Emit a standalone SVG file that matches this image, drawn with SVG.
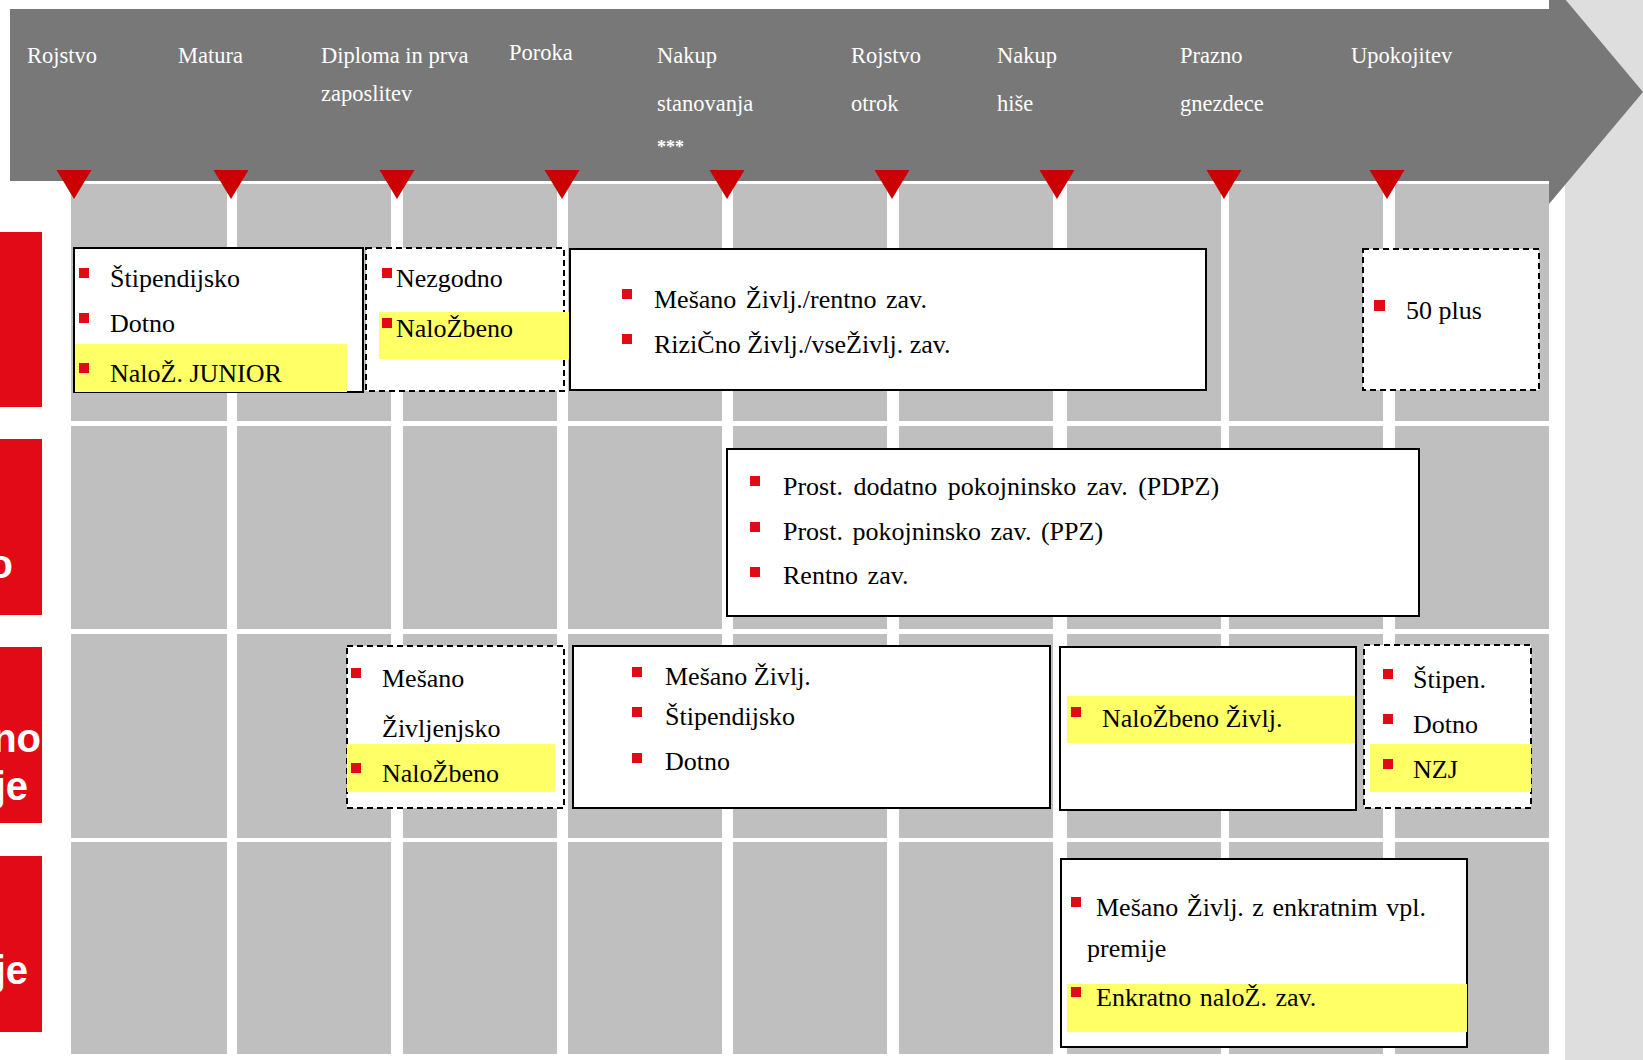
<svg xmlns="http://www.w3.org/2000/svg" width="1643" height="1060" viewBox="0 0 1643 1060">
<style>
.cell{fill:#BFBFBF}
.hdr{font-family:"Liberation Serif",serif;font-size:22.5px;fill:#fff}
.ast{font-family:"Liberation Serif",serif;font-size:18px;font-weight:bold;fill:#fff}
.t{font-family:"Liberation Serif",serif;font-size:26px;fill:#000}
.box{fill:#fff;stroke:#000;stroke-width:2}
.dash{fill:#fff;stroke:#000;stroke-width:2;stroke-dasharray:6 4}
.hl{fill:#FFFF66}
.bul{fill:#E30A17}
.tri{fill:#CC0000}
.tab{fill:#E30A17}
.tabt{font-family:"Liberation Sans",Arial,sans-serif;font-weight:bold;font-size:40px;fill:#fff}
</style>
<rect width="1643" height="1060" fill="#fff"/>
<rect x="1565" y="0" width="78" height="1060" fill="#DEDEDE"/>
<g id="grid">
<rect class="cell" x="71" y="184" width="156" height="237"/><rect class="cell" x="237" y="184" width="154" height="237"/><rect class="cell" x="403" y="184" width="154" height="237"/><rect class="cell" x="568" y="184" width="154" height="237"/><rect class="cell" x="733" y="184" width="154" height="237"/><rect class="cell" x="899" y="184" width="154" height="237"/><rect class="cell" x="1067" y="184" width="154" height="237"/><rect class="cell" x="1229" y="184" width="154" height="237"/><rect class="cell" x="1395" y="184" width="154" height="237"/>
<rect class="cell" x="71" y="426" width="156" height="203"/><rect class="cell" x="237" y="426" width="154" height="203"/><rect class="cell" x="403" y="426" width="154" height="203"/><rect class="cell" x="568" y="426" width="154" height="203"/><rect class="cell" x="733" y="426" width="154" height="203"/><rect class="cell" x="899" y="426" width="154" height="203"/><rect class="cell" x="1067" y="426" width="154" height="203"/><rect class="cell" x="1229" y="426" width="154" height="203"/><rect class="cell" x="1395" y="426" width="154" height="203"/>
<rect class="cell" x="71" y="634" width="156" height="204"/><rect class="cell" x="237" y="634" width="154" height="204"/><rect class="cell" x="403" y="634" width="154" height="204"/><rect class="cell" x="568" y="634" width="154" height="204"/><rect class="cell" x="733" y="634" width="154" height="204"/><rect class="cell" x="899" y="634" width="154" height="204"/><rect class="cell" x="1067" y="634" width="154" height="204"/><rect class="cell" x="1229" y="634" width="154" height="204"/><rect class="cell" x="1395" y="634" width="154" height="204"/>
<rect class="cell" x="71" y="842" width="156" height="212"/><rect class="cell" x="237" y="842" width="154" height="212"/><rect class="cell" x="403" y="842" width="154" height="212"/><rect class="cell" x="568" y="842" width="154" height="212"/><rect class="cell" x="733" y="842" width="154" height="212"/><rect class="cell" x="899" y="842" width="154" height="212"/><rect class="cell" x="1067" y="842" width="154" height="212"/><rect class="cell" x="1229" y="842" width="154" height="212"/><rect class="cell" x="1395" y="842" width="154" height="212"/>
</g>
<g id="timeline">
<path d="M10,9 H1549 V-20 L1643,92 L1549,204 V181 H10 Z" fill="#787878"/>
<text class="hdr" x="27" y="63">Rojstvo</text>
<text class="hdr" x="178" y="63">Matura</text>
<text class="hdr" x="321" y="63">Diploma in prva</text>
<text class="hdr" x="321" y="101">zaposlitev</text>
<text class="hdr" x="509" y="60">Poroka</text>
<text class="hdr" x="657" y="63">Nakup</text>
<text class="hdr" x="657" y="111">stanovanja</text>
<text class="ast" x="657" y="153">***</text>
<text class="hdr" x="851" y="63">Rojstvo</text>
<text class="hdr" x="851" y="111">otrok</text>
<text class="hdr" x="997" y="63">Nakup</text>
<text class="hdr" x="997" y="111">hiše</text>
<text class="hdr" x="1180" y="63">Prazno</text>
<text class="hdr" x="1180" y="111">gnezdece</text>
<text class="hdr" x="1351" y="63">Upokojitev</text>
<polygon class="tri" points="56.5,170 91.5,170 74,199"/>
<polygon class="tri" points="213.5,170 248.5,170 231,199"/>
<polygon class="tri" points="379.5,170 414.5,170 397,199"/>
<polygon class="tri" points="544.5,170 579.5,170 562,199"/>
<polygon class="tri" points="709.5,170 744.5,170 727,199"/>
<polygon class="tri" points="874.5,170 909.5,170 892,199"/>
<polygon class="tri" points="1039.5,170 1074.5,170 1057,199"/>
<polygon class="tri" points="1206.5,170 1241.5,170 1224,199"/>
<polygon class="tri" points="1369.5,170 1404.5,170 1387,199"/>
</g>
<g id="tabs">
<rect class="tab" x="0" y="232" width="42" height="175"/>
<rect class="tab" x="0" y="439" width="42" height="176"/>
<text class="tabt" x="13" y="578" text-anchor="end">o</text>
<rect class="tab" x="0" y="647" width="42" height="176"/>
<text class="tabt" x="41" y="752" text-anchor="end">no</text>
<text class="tabt" x="28" y="800" text-anchor="end">je</text>
<rect class="tab" x="0" y="856" width="42" height="176"/>
<text class="tabt" x="28" y="984" text-anchor="end">je</text>
</g>
<g id="connectors"></g>
<g id="boxA">
<rect class="box" x="74" y="248" width="289" height="144"/>
<rect class="hl" x="75" y="344" width="272" height="48"/>
<rect class="bul" x="79" y="268" width="10" height="10"/>
<rect class="bul" x="79" y="313" width="10" height="10"/>
<rect class="bul" x="79" y="363" width="10" height="10"/>
<text class="t" x="110" y="287">Štipendijsko</text>
<text class="t" x="110" y="332">Dotno</text>
<text class="t" x="110" y="382">NaloŽ. JUNIOR</text>
</g>
<g id="boxB">
<rect class="dash" x="366" y="248" width="198" height="143"/>
<rect class="hl" x="379" y="312" width="192" height="47"/>
<rect class="bul" x="382" y="268" width="10" height="10"/>
<rect class="bul" x="382" y="318" width="10" height="10"/>
<text class="t" x="396" y="287">Nezgodno</text>
<text class="t" x="396" y="337">NaloŽbeno</text>
</g>
<g id="boxC">
<rect class="box" x="570" y="249" width="636" height="141"/>
<rect class="bul" x="622" y="289" width="10" height="10"/>
<rect class="bul" x="622" y="334" width="10" height="10"/>
<text class="t" x="654" y="308" word-spacing="3">Mešano Življ./rentno zav.</text>
<text class="t" x="654" y="353">RiziČno Življ./vseŽivlj. zav.</text>
</g>
<g id="boxD">
<rect class="dash" x="1363" y="249" width="176" height="141"/>
<rect class="bul" x="1374" y="300" width="11" height="11"/>
<text class="t" x="1406" y="319">50 plus</text>
</g>
<g id="boxE">
<rect class="box" x="727" y="449" width="692" height="167"/>
<rect class="bul" x="750" y="476" width="10" height="10"/>
<rect class="bul" x="750" y="522" width="10" height="10"/>
<rect class="bul" x="750" y="567" width="10" height="10"/>
<text class="t" x="783" y="495" word-spacing="4">Prost. dodatno pokojninsko zav. (PDPZ)</text>
<text class="t" x="783" y="540" word-spacing="3">Prost. pokojninsko zav. (PPZ)</text>
<text class="t" x="783" y="584" word-spacing="3">Rentno zav.</text>
</g>
<g id="boxF">
<rect class="dash" x="347" y="646" width="217" height="162"/>
<rect class="hl" x="347" y="744" width="208" height="48"/>
<rect class="bul" x="351" y="668" width="10" height="10"/>
<rect class="bul" x="351" y="763" width="10" height="10"/>
<text class="t" x="382" y="687">Mešano</text>
<text class="t" x="382" y="737">Življenjsko</text>
<text class="t" x="382" y="782">NaloŽbeno</text>
</g>
<g id="boxG">
<rect class="box" x="573" y="646" width="477" height="162"/>
<rect class="bul" x="632" y="667" width="10" height="10"/>
<rect class="bul" x="632" y="707" width="10" height="10"/>
<rect class="bul" x="632" y="753" width="10" height="10"/>
<text class="t" x="665" y="685">Mešano Življ.</text>
<text class="t" x="665" y="725">Štipendijsko</text>
<text class="t" x="665" y="770">Dotno</text>
</g>
<g id="boxH">
<rect class="box" x="1060" y="647" width="296" height="163"/>
<rect class="hl" x="1067" y="696" width="288" height="47"/>
<rect class="bul" x="1071" y="707" width="10" height="10"/>
<text class="t" x="1102" y="727">NaloŽbeno Življ.</text>
</g>
<g id="boxI">
<rect class="dash" x="1364" y="645" width="167" height="163"/>
<rect class="hl" x="1370" y="744" width="161" height="48"/>
<rect class="bul" x="1383" y="669" width="10" height="10"/>
<rect class="bul" x="1383" y="714" width="10" height="10"/>
<rect class="bul" x="1383" y="759" width="10" height="10"/>
<text class="t" x="1413" y="688">Štipen.</text>
<text class="t" x="1413" y="733">Dotno</text>
<text class="t" x="1413" y="778">NZJ</text>
</g>
<g id="boxJ">
<rect class="box" x="1061" y="859" width="406" height="188"/>
<rect class="hl" x="1067" y="984" width="400" height="48"/>
<rect class="bul" x="1071" y="897" width="10" height="10"/>
<rect class="bul" x="1071" y="987" width="10" height="10"/>
<text class="t" x="1096" y="916" word-spacing="2">Mešano Življ. z enkratnim vpl.</text>
<text class="t" x="1087" y="957">premije</text>
<text class="t" x="1096" y="1006" word-spacing="2">Enkratno naloŽ. zav.</text>
</g>
</svg>
